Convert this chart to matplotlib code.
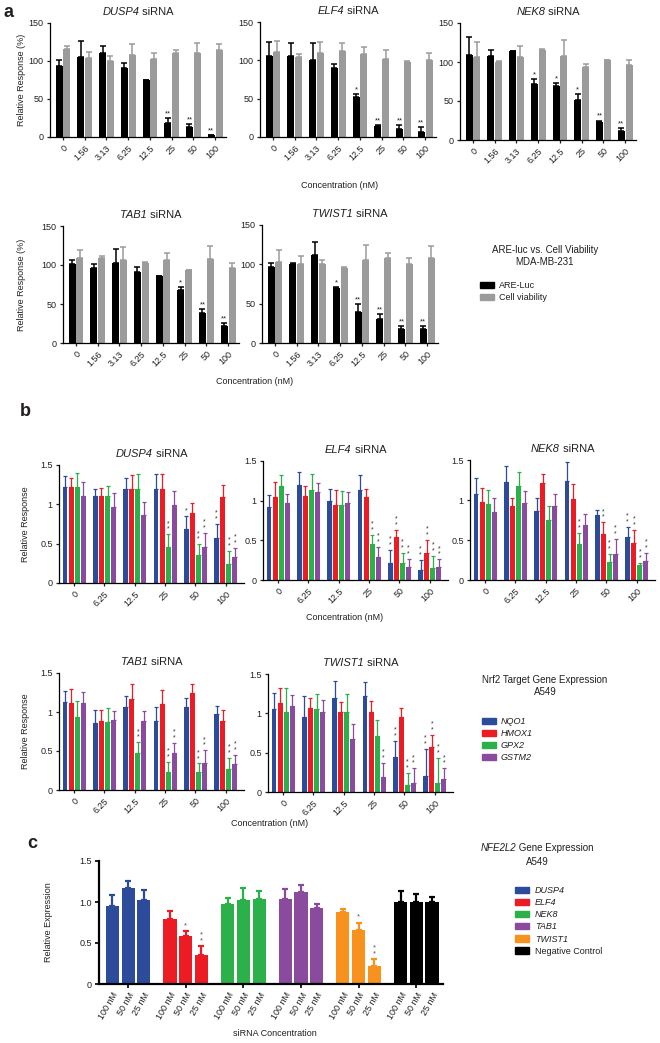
import numpy as np
import matplotlib
matplotlib.use("Agg")
import matplotlib.pyplot as plt
from matplotlib.patches import Patch

plt.rcParams["font.family"] = ["Liberation Sans", "DejaVu Sans"]
plt.rcParams["text.color"] = "#231F20"
plt.rcParams["axes.labelcolor"] = "#231F20"
plt.rcParams["xtick.color"] = "#231F20"
plt.rcParams["ytick.color"] = "#231F20"

# ---------------- panel a: ARE-luc vs cell viability ----------------
A_CONC = ["0", "1.56", "3.13", "6.25", "12.5", "25", "50", "100"]

DUSP4_LUC = [94, 105, 111, 91, 75, 19, 13, 2]
DUSP4_LUC_ERR = [7, 21, 9, 7, 0.5, 6, 4, 1]
DUSP4_VIA = [116, 104, 100, 108, 102, 111, 110, 114]
DUSP4_VIA_ERR = [4, 8, 6, 15, 8, 4, 14, 9]
DUSP4_SIG = [0, 0, 0, 0, 0, 2, 2, 2]

ELF4_LUC = [106, 106, 101, 90, 52, 14, 11, 7]
ELF4_LUC_ERR = [18, 17, 21, 5, 4, 2, 5, 6]
ELF4_VIA = [111, 104, 110, 112, 108, 102, 98, 100]
ELF4_VIA_ERR = [14, 4, 14, 11, 10, 11, 1, 9]
ELF4_SIG = [0, 0, 0, 0, 1, 2, 2, 2]

NEK8_LUC = [109, 108, 114, 72, 69, 51, 23, 12]
NEK8_LUC_ERR = [23, 7, 0.5, 6, 4, 8, 2, 3]
NEK8_VIA = [106, 100, 106, 116, 108, 94, 102, 96]
NEK8_VIA_ERR = [20, 1, 15, 1, 20, 3, 1, 7]
NEK8_SIG = [0, 0, 0, 1, 1, 1, 2, 2]

TAB1_LUC = [101, 96, 102, 91, 86, 68, 39, 22]
TAB1_LUC_ERR = [6, 5, 18, 6, 0.5, 4, 4, 4]
TAB1_VIA = [109, 109, 107, 102, 106, 93, 108, 96]
TAB1_VIA_ERR = [10, 2, 16, 2, 10, 1, 16, 7]
TAB1_SIG = [0, 0, 0, 0, 0, 1, 2, 2]

TWIST1_LUC = [97, 101, 112, 70, 39, 30, 18, 18]
TWIST1_LUC_ERR = [5, 0.5, 16, 1, 10, 7, 4, 3]
TWIST1_VIA = [103, 101, 101, 95, 105, 108, 100, 108]
TWIST1_VIA_ERR = [15, 10, 4, 1, 20, 7, 8, 15]
TWIST1_SIG = [0, 0, 0, 1, 2, 2, 2, 2]

# ---------------- panel b: Nrf2 target genes (NQO1, HMOX1, GPX2, GSTM2) ----------------
B_CONC = ["0", "6.25", "12.5", "25", "50", "100"]
B_GENES = ["NQO1", "HMOX1", "GPX2", "GSTM2"]

B_DUSP4 = [[1.22, 1.10, 1.19, 1.19, 0.69, 0.57],
           [1.22, 1.10, 1.19, 1.19, 0.89, 1.09],
           [1.22, 1.10, 1.19, 0.46, 0.35, 0.24],
           [1.10, 0.97, 0.86, 0.99, 0.46, 0.33]]
B_DUSP4_ERR = [[0.14, 0.10, 0.15, 0.19, 0.16, 0.18],
               [0.12, 0.11, 0.18, 0.19, 0.13, 0.15],
               [0.18, 0.13, 0.19, 0.16, 0.14, 0.17],
               [0.19, 0.17, 0.17, 0.18, 0.18, 0.12]]
B_DUSP4_SIG = [[0, 0, 0, 0, 1, 2], [0, 0, 0, 0, 0, 0],
               [0, 0, 0, 2, 2, 2], [0, 0, 0, 0, 2, 2]]

B_ELF4 = [[0.92, 1.20, 1.00, 1.14, 0.22, 0.13],
          [1.05, 1.06, 0.95, 1.04, 0.54, 0.34],
          [1.18, 1.14, 0.94, 0.45, 0.22, 0.15],
          [0.97, 1.11, 0.97, 0.29, 0.16, 0.16]]
B_ELF4_ERR = [[0.15, 0.16, 0.15, 0.18, 0.16, 0.12],
              [0.18, 0.13, 0.19, 0.11, 0.09, 0.17],
              [0.14, 0.19, 0.18, 0.12, 0.12, 0.15],
              [0.12, 0.11, 0.14, 0.13, 0.11, 0.10]]
B_ELF4_SIG = [[0, 0, 0, 0, 2, 2], [0, 0, 0, 0, 2, 2],
              [0, 0, 0, 2, 2, 2], [0, 0, 0, 2, 2, 2]]

B_NEK8 = [[1.08, 1.23, 0.86, 1.24, 0.81, 0.54],
          [0.97, 0.93, 1.21, 1.01, 0.57, 0.46],
          [0.95, 1.17, 0.75, 0.45, 0.23, 0.19],
          [0.85, 0.96, 0.92, 0.69, 0.33, 0.24]]
B_NEK8_ERR = [[0.20, 0.19, 0.17, 0.23, 0.07, 0.12],
              [0.18, 0.10, 0.11, 0.19, 0.15, 0.17],
              [0.18, 0.18, 0.18, 0.14, 0.10, 0.02],
              [0.17, 0.15, 0.15, 0.14, 0.18, 0.10]]
B_NEK8_SIG = [[0, 0, 0, 0, 0, 2], [0, 0, 0, 0, 2, 2],
              [0, 0, 0, 2, 2, 2], [0, 0, 0, 0, 2, 2]]

B_TAB1 = [[1.13, 0.86, 1.07, 0.89, 1.07, 0.97],
          [1.11, 0.89, 1.17, 1.10, 1.24, 0.89],
          [0.94, 0.87, 0.47, 0.23, 0.23, 0.27],
          [1.12, 0.90, 0.89, 0.48, 0.35, 0.33]]
B_TAB1_ERR = [[0.14, 0.16, 0.14, 0.17, 0.11, 0.11],
              [0.19, 0.13, 0.19, 0.18, 0.12, 0.13],
              [0.20, 0.18, 0.14, 0.13, 0.11, 0.14],
              [0.14, 0.11, 0.12, 0.12, 0.16, 0.12]]
B_TAB1_SIG = [[0, 0, 0, 0, 0, 0], [0, 0, 0, 0, 0, 0],
              [0, 0, 2, 2, 2, 2], [0, 0, 0, 2, 2, 2]]

B_TWIST1 = [[1.06, 0.95, 1.19, 1.22, 0.45, 0.20],
            [1.13, 1.07, 1.02, 1.02, 0.95, 0.57],
            [1.02, 1.06, 1.02, 0.71, 0.09, 0.12],
            [1.09, 1.02, 0.68, 0.19, 0.12, 0.17]]
B_TWIST1_ERR = [[0.20, 0.27, 0.22, 0.18, 0.20, 0.35],
                [0.19, 0.12, 0.12, 0.14, 0.12, 0.16],
                [0.30, 0.18, 0.22, 0.20, 0.15, 0.31],
                [0.14, 0.15, 0.18, 0.18, 0.18, 0.13]]
B_TWIST1_SIG = [[0, 0, 0, 0, 2, 2], [0, 0, 0, 0, 0, 2],
                [0, 0, 0, 0, 2, 2], [0, 0, 0, 2, 2, 2]]

# ---------------- panel c: NFE2L2 expression ----------------
C_GROUPS = ["DUSP4", "ELF4", "NEK8", "TAB1", "TWIST1", "Negative Control"]
C_DOSES = ["100 nM", "50 nM", "25 nM"]
C_DUSP4 = [0.95, 1.17, 1.03]
C_ELF4 = [0.79, 0.58, 0.35]
C_NEK8 = [0.98, 1.03, 1.04]
C_TAB1 = [1.04, 1.12, 0.93]
C_TWIST1 = [0.88, 0.66, 0.22]
C_NEG = [1.00, 1.00, 1.00]
C_DUSP4_ERR = [0.13, 0.09, 0.12]
C_ELF4_ERR = [0.10, 0.07, 0.11]
C_NEK8_ERR = [0.07, 0.14, 0.10]
C_TAB1_ERR = [0.12, 0.09, 0.04]
C_TWIST1_ERR = [0.03, 0.09, 0.08]
C_NEG_ERR = [0.13, 0.10, 0.06]
C_SIG = [[0, 0, 0], [0, 1, 2], [0, 0, 0], [0, 0, 0], [0, 1, 2], [0, 0, 0]]

BLUE, RED, GREEN, PURPLE, ORANGE = "#2D4B9B", "#EC1C24", "#2BB04A", "#8A4B9E", "#F7921E"
GRAY = "#9B9B9B"
B_COLORS = [BLUE, RED, GREEN, PURPLE]
C_COLORS = [BLUE, RED, GREEN, PURPLE, ORANGE, "black"]

W, H = 660, 1043
fig = plt.figure(figsize=(W / 100, H / 100), dpi=100)
split_titles = []  # (italic part, plain part) pairs centred after a draw


def add_ax(left, top, right, bottom):
    ax = fig.add_axes([left / W, 1 - bottom / H, (right - left) / W, (bottom - top) / H])
    ax.spines[["top", "right"]].set_visible(False)
    return ax


def split_text(xy, coords, italic, plain, size, dy=0):
    t1 = fig.text(0, 0, "")  # placeholder, replaced below
    t1.remove()
    t1 = plt.annotate(italic, xy=xy, xycoords=coords, xytext=(0, dy), textcoords="offset points",
                      fontsize=size, style="italic", ha="left", va="bottom", annotation_clip=False)
    t2 = plt.annotate(plain, xy=(1, 0), xycoords=t1, fontsize=size, ha="left", va="bottom",
                      annotation_clip=False)
    split_titles.append((t1, t2, dy))


def gene_title(ax, gene):
    plt.sca(ax)
    split_text((0.5, 1.0), "axes fraction", gene, " siRNA", 8, dy=4)


def ylabel_at(ax, text, right_px, left_px, width_px):
    ax.set_ylabel(text, fontsize=6.5)
    ax.yaxis.set_label_coords((right_px - left_px) / width_px, 0.5)


def panel_a(box, gene, luc, luc_err, via, via_err, sig, ylabel):
    ax = add_ax(*box)
    x = np.arange(len(A_CONC))
    w, off = 0.32, 0.18
    ax.bar(x - off, luc, w, color="black", zorder=2)
    ax.bar(x + off, via, w, color=GRAY, zorder=2)
    ax.errorbar(x - off, luc, yerr=[np.zeros(len(x)), luc_err], fmt="none",
                ecolor="black", elinewidth=1.1, capsize=2, capthick=1.1, zorder=1)
    ax.errorbar(x + off, via, yerr=[np.zeros(len(x)), via_err], fmt="none",
                ecolor=GRAY, elinewidth=1.1, capsize=2, capthick=1.1, zorder=1)
    for xi, v, e, s in zip(x, luc, luc_err, sig):
        if s:
            ax.text(xi - off, v + e + 1, "*" * s, ha="center", va="bottom", fontsize=5.5)
    ax.set_ylim(0, 150)
    ax.set_yticks([0, 50, 100, 150])
    ax.set_xlim(-0.6, 7.5)
    ax.set_xticks(x, A_CONC, rotation=45, ha="right", rotation_mode="anchor")
    ax.tick_params(labelsize=6.5, length=2.5, width=0.9, pad=2)
    for sp in ax.spines.values():
        sp.set_linewidth(0.9)
    gene_title(ax, gene)
    if ylabel:
        ylabel_at(ax, "Relative Response (%)", 26, box[0], box[2] - box[0])
    return ax


def panel_b(box, gene, vals, errs, sigs, ylabel):
    ax = add_ax(*box)
    x = np.arange(len(B_CONC))
    for i, (v, e, s, col) in enumerate(zip(vals, errs, sigs, B_COLORS)):
        xi = x + (i - 1.5) * 0.2
        ax.bar(xi, v, 0.16, color=col, zorder=2)
        ax.errorbar(xi, v, yerr=[np.zeros(len(x)), e], fmt="none", ecolor=col,
                    elinewidth=0.9, capsize=1.2, capthick=0.9, zorder=1)
        for xx, vv, ee, ss in zip(xi, v, e, s):
            if ss:
                ax.text(xx, vv + ee + 0.02, "\n".join("*" * ss), ha="center", va="bottom",
                        fontsize=5, linespacing=0.75, color="#333333")
    ax.set_ylim(0, 1.5)
    ax.set_yticks([0, 0.5, 1, 1.5], ["0", "0.5", "1", "1.5"])
    ax.set_xlim(-0.5, 5.6)
    ax.set_xticks(x, B_CONC, rotation=45, ha="right", rotation_mode="anchor")
    ax.tick_params(labelsize=6.5, length=2.5, width=0.9, pad=2)
    for sp in ax.spines.values():
        sp.set_linewidth(0.9)
    gene_title(ax, gene)
    if ylabel:
        ylabel_at(ax, "Relative Response", 30, box[0], box[2] - box[0])
    return ax


# panel a
fig.text(4 / W, 1 - 4 / H, "a", fontsize=13, fontweight="bold", va="top")
panel_a((50, 23, 226, 137), "DUSP4", DUSP4_LUC, DUSP4_LUC_ERR, DUSP4_VIA, DUSP4_VIA_ERR, DUSP4_SIG, True)
panel_a((260, 22, 436, 137), "ELF4", ELF4_LUC, ELF4_LUC_ERR, ELF4_VIA, ELF4_VIA_ERR, ELF4_SIG, False)
panel_a((460, 23, 636, 140), "NEK8", NEK8_LUC, NEK8_LUC_ERR, NEK8_VIA, NEK8_VIA_ERR, NEK8_SIG, False)
panel_a((63, 226, 239, 343), "TAB1", TAB1_LUC, TAB1_LUC_ERR, TAB1_VIA, TAB1_VIA_ERR, TAB1_SIG, True)
panel_a((262, 225, 438, 343), "TWIST1", TWIST1_LUC, TWIST1_LUC_ERR, TWIST1_VIA, TWIST1_VIA_ERR, TWIST1_SIG, False)
fig.text(340 / W, 1 - 185 / H, "Concentration (nM)", fontsize=6.5, ha="center", va="center")
fig.text(255 / W, 1 - 382 / H, "Concentration (nM)", fontsize=6.5, ha="center", va="center")
fig.text(545 / W, 1 - 256 / H, "ARE-luc vs. Cell Viability\nMDA-MB-231", fontsize=7,
         ha="center", va="center", linespacing=1.2)
leg = fig.legend([Patch(color="black"), Patch(color=GRAY)], ["ARE-Luc", "Cell viability"],
                 loc="upper left", bbox_to_anchor=(480 / W, 1 - 281 / H), frameon=False,
                 fontsize=6.5, handlelength=1.6, handleheight=0.7, handletextpad=0.5,
                 labelspacing=0.35, borderpad=0, borderaxespad=0)

# panel b
fig.text(20 / W, 1 - 403 / H, "b", fontsize=13, fontweight="bold", va="top")
panel_b((59, 465, 244, 583), "DUSP4", B_DUSP4, B_DUSP4_ERR, B_DUSP4_SIG, True)
panel_b((263, 461, 448, 580), "ELF4", B_ELF4, B_ELF4_ERR, B_ELF4_SIG, False)
panel_b((470, 460, 655, 580), "NEK8", B_NEK8, B_NEK8_ERR, B_NEK8_SIG, False)
panel_b((59, 673, 244, 790), "TAB1", B_TAB1, B_TAB1_ERR, B_TAB1_SIG, True)
panel_b((268, 674, 453, 792), "TWIST1", B_TWIST1, B_TWIST1_ERR, B_TWIST1_SIG, False)
fig.text(345 / W, 1 - 617 / H, "Concentration (nM)", fontsize=6.5, ha="center", va="center")
fig.text(270 / W, 1 - 824 / H, "Concentration (nM)", fontsize=6.5, ha="center", va="center")
fig.text(545 / W, 1 - 686 / H, "Nrf2 Target Gene Expression\nA549", fontsize=7,
         ha="center", va="center", linespacing=1.2)
leg = fig.legend([Patch(color=c) for c in B_COLORS], B_GENES,
                 loc="upper left", bbox_to_anchor=(482 / W, 1 - 717 / H), frameon=False,
                 fontsize=6.5, handlelength=1.6, handleheight=0.7, handletextpad=0.5,
                 labelspacing=0.35, borderpad=0, borderaxespad=0)
for t in leg.get_texts():
    t.set_style("italic")

# panel c
fig.text(27 / W, 1 - 835 / H, "c", fontsize=13, fontweight="bold", va="top")
axc = add_ax(99, 861, 443, 984)
c_vals = [C_DUSP4, C_ELF4, C_NEK8, C_TAB1, C_TWIST1, C_NEG]
c_errs = [C_DUSP4_ERR, C_ELF4_ERR, C_NEK8_ERR, C_TAB1_ERR, C_TWIST1_ERR, C_NEG_ERR]
pos, labels = [], []
for g, (v, e, s, col) in enumerate(zip(c_vals, c_errs, C_SIG, C_COLORS)):
    xi = g * 3.67 + np.arange(len(C_DOSES))
    axc.bar(xi, v, 0.83, color=col, zorder=2)
    axc.errorbar(xi, v, yerr=[np.zeros(len(xi)), e], fmt="none", ecolor=col,
                 elinewidth=1.6, capsize=2.2, capthick=1.6, zorder=1)
    for xx, vv, ee, ss in zip(xi, v, e, s):
        if ss:
            axc.text(xx, vv + ee + 0.02, "\n".join("*" * ss), ha="center", va="bottom",
                     fontsize=5.5, linespacing=0.8, color="#555555")
    pos.extend(xi)
    labels.extend(C_DOSES)
axc.set_ylim(0, 1.5)
axc.set_yticks([0, 0.5, 1.0, 1.5], ["0", "0.5", "1.0", "1.5"])
axc.set_xlim(-0.85, 21.05)
axc.set_xticks(pos, labels, rotation=60, ha="right", rotation_mode="anchor")
axc.tick_params(labelsize=6.5, length=3, width=1.4, pad=2)
for i, tk in enumerate(axc.xaxis.get_major_ticks()):
    if i % 3 != 1:
        tk.tick1line.set_markersize(0)
for sp in axc.spines.values():
    sp.set_linewidth(1.6)
ylabel_at(axc, "Relative Expression", 53, 99, 344)
fig.text(275 / W, 1 - 1033 / H, "siRNA Concentration", fontsize=6.5, ha="center", va="center")
plt.sca(axc)
split_text((537 / W, 1 - 853 / H), "figure fraction", "NFE2L2", " Gene Expression", 7)
fig.text(537 / W, 1 - 862 / H, "A549", fontsize=7, ha="center", va="center")
leg = fig.legend([Patch(color=c) for c in C_COLORS], C_GROUPS,
                 loc="upper left", bbox_to_anchor=(515 / W, 1 - 886 / H), frameon=False,
                 fontsize=6.5, handlelength=1.6, handleheight=0.7, handletextpad=0.6,
                 labelspacing=0.35, borderpad=0, borderaxespad=0)
for t in leg.get_texts()[:-1]:
    t.set_style("italic")

# centre the mixed italic / plain titles
fig.canvas.draw()
renderer = fig.canvas.get_renderer()
for t1, t2, dy in split_titles:
    total = t1.get_window_extent(renderer).width + t2.get_window_extent(renderer).width
    t1.xyann = (-total / 2 * 72 / fig.dpi, dy)

fig.savefig("out.png", dpi=100, facecolor="white")
